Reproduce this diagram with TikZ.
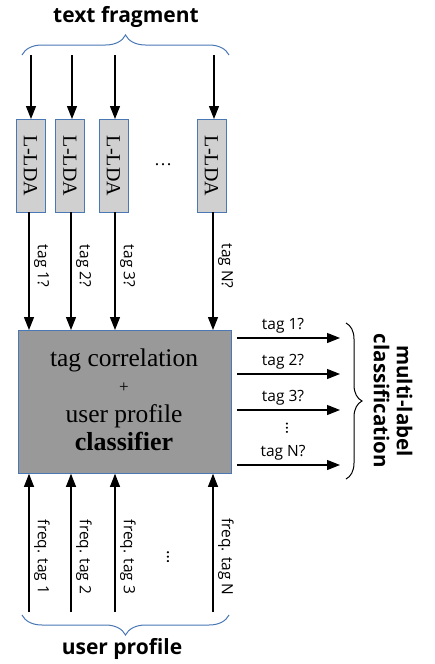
\documentclass[tikz,border=0pt]{standalone}
\usepackage{fontspec}
\setmainfont{Liberation Serif}
\newfontfamily\osans{Open Sans}
\usetikzlibrary{arrows.meta,decorations.pathreplacing}
\definecolor{bordblue}{HTML}{4A78B4}
\definecolor{lightbox}{HTML}{D0D0D0}
\definecolor{darkbox}{HTML}{999999}
\begin{document}
\begin{tikzpicture}[x=1pt,y=-1pt,
  arr/.style={line width=1.1pt,-{Triangle[length=13pt,width=10pt]}},
  ldabox/.style={draw=bordblue,fill=lightbox,line width=0.8pt,minimum width=29pt,minimum height=93pt,inner sep=0pt,anchor=north},
  ldatext/.style={rotate=-90,font=\fontsize{20}{20}\selectfont},
  lab/.style={font=\osans\fontsize{15.5}{15.5}\selectfont,inner sep=1pt},
  vlab/.style={lab,rotate=-90,anchor=south},
  title/.style={font=\osans\bfseries\fontsize{21}{21}\selectfont},
  brc/.style={decorate,decoration={brace,amplitude=20pt},line width=1pt},
  ctext/.style={font=\fontsize{25.5}{25.5}\selectfont,inner sep=0pt,anchor=base}
]
\useasboundingbox (0,0) rectangle (435,664);
% title and top brace
\node[title] (tf) at (126,17) {text fragment};
\draw[brc,draw=bordblue] (22,55) -- (229,55);
% L-LDA boxes
\foreach \n/\x in {1/30.5,2/70,3/113.5,4/211.5}{
  \node[ldabox] (b\n) at (\x,119) {};
  \node[ldatext] (t\n) at (b\n.center) {L-LDA};
}
\node[font=\fontsize{18}{18}\selectfont] (dots1) at (163,165) {\dots};
% top arrows
\foreach \n/\x in {1/31,2/72,3/115,4/214}{
  \coordinate (s\n) at (\x,55);
  \draw[arr] (s\n) -- (s\n |- b\n.north);
}
% classifier
\node[draw=bordblue,fill=darkbox,line width=0.8pt,minimum width=213pt,minimum height=143pt,inner sep=0pt,anchor=north west] (cls) at (18,330) {};
\node[ctext] (c1) at (124,366) {tag correlation};
\node[font=\fontsize{17}{17}\selectfont] (c2) at (124,388) {+};
\node[ctext] (c3) at (124,422) {user profile};
\node[ctext,font=\bfseries\fontsize{26}{26}\selectfont] (c4) at (124,450) {classifier};
% box -> classifier arrows
\foreach \n/\x/\t in {1/29/tag 1?,2/71/tag 2?,3/115/tag 3?,4/213/tag N?}{
  \coordinate (u\n) at (\x,212);
  \draw[arr] (u\n) -- (u\n |- cls.north);
  \node[vlab] (l\n) at (\x+4,266) {\t};
}
% output arrows
\foreach \n/\y/\t in {1/338/tag 1?,2/374/tag 2?,3/410/tag 3?,4/465/tag N?}{
  \coordinate (o\n) at (340,\y);
  \draw[arr] (o\n -| cls.east) ++(5,0) -- (o\n);
  \node[lab] (ol\n) at (283,\y-12) {\t};
}
\node[lab,rotate=90,font=\osans\fontsize{16}{16}\selectfont] (vd) at (287,428) {\dots};
% right brace
\draw[brc,draw=black,decoration={amplitude=16pt}] (346,323) -- (346,479);
\node[title,rotate=-90,align=center,font=\osans\bfseries\fontsize{20.5}{23}\selectfont] (ml) at (393,401) {multi-label\\classification};
% bottom arrows
\foreach \n/\x/\t in {1/29/freq. tag 1,2/71/freq. tag 2,3/115/freq. tag 3,4/213/freq. tag N}{
  \coordinate (d\n) at (\x,612);
  \draw[arr] (d\n) -- (d\n |- cls.south);
  \node[vlab] (fl\n) at (\x+4,557) {\t};
}
\node[font=\osans\fontsize{17}{17}\selectfont,rotate=-90] (dots2) at (168,557) {\dots};
\draw[brc,draw=bordblue] (229,615) -- (22,615);
\node[title] (up) at (122,649) {user profile};
\end{tikzpicture}
\end{document}
